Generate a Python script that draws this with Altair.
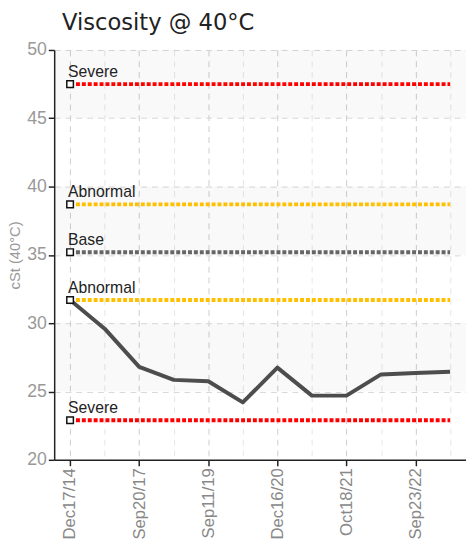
import altair as alt
import pandas as pd

# ---- data ----
idx = list(range(12))
tick_labels = ["Dec17/14", "", "Sep20/17", "", "Sep11/19", "", "Dec16/20", "",
               "Oct18/21", "", "Sep23/22", ""]
visc = [31.7, 29.6, 26.8, 25.85, 25.75, 24.2, 26.75, 24.7, 24.7, 26.25, 26.35, 26.45]

lim_names = ["Severe", "Abnormal", "Base", "Abnormal", "Severe"]
lim_values = [47.5, 38.7, 35.2, 31.7, 22.9]
lim_colors = ["#ff0000", "#ffc000", "#666666", "#ffc000", "#ff0000"]

band_lo = [25, 35, 45]
band_hi = [30, 40, 50]
y_ticks = [20, 25, 30, 35, 40, 45, 50]

# ---- tables ----
line_df = pd.DataFrame({"i": idx, "v": visc})
lim_df = pd.DataFrame({"g": list(range(len(lim_names))), "name": lim_names,
                       "v": lim_values, "c": lim_colors, "i": [idx[0]] * len(lim_names)})
lim_line_df = pd.concat([lim_df.assign(i=idx[0]), lim_df.assign(i=idx[-1])])
band_df = pd.DataFrame({"v": band_lo, "v2": band_hi})

FONT = "Liberation Sans, Arial, sans-serif"
label_expr = "[" + ",".join("'%s'" % t for t in tick_labels) + "][datum.value]"
labeled_test = "datum.value % 2 === 0"

X = alt.X("i:O", scale=alt.Scale(type="point", padding=0.46),
          axis=alt.Axis(title=None, labelExpr=label_expr, labelAngle=270,
                        labelAlign="right", labelBaseline="middle",
                        labelFont=FONT, labelFontSize=17, labelColor="#888888",
                        labelPadding=2, tickSize=6, tickWidth=1.5, tickColor="#222222",
                        tickOpacity={"condition": {"test": labeled_test, "value": 1}, "value": 0},
                        domainColor="#222222", domainWidth=1.5,
                        grid=True, gridDash=[6, 5],
                        gridColor={"condition": {"test": labeled_test, "value": "#cccccc"},
                                   "value": "#e6e6e6"}))
Y = alt.Y("v:Q", scale=alt.Scale(domain=[20, 50], nice=False, zero=False),
          axis=alt.Axis(values=y_ticks, title="cSt (40°C)", titleFont=FONT,
                        titleFontSize=15, titleColor="#999999", titleFontWeight="normal",
                        titlePadding=4,
                        labelFont=FONT, labelFontSize=18, labelColor="#999999",
                        labelPadding=2, tickSize=6, tickWidth=1.5, tickColor="#222222",
                        domainColor="#222222", domainWidth=1.5,
                        grid=True, gridDash=[6, 5], gridColor="#d8d8d8"))

bands = alt.Chart(band_df).mark_rect(color="#000000", opacity=0.025).encode(
    x=alt.value(0), x2=alt.value("width"), y=Y, y2="v2:Q")

limits = alt.Chart(lim_line_df).mark_line(strokeWidth=4, strokeDash=[4, 2], strokeCap="butt").encode(
    x=X, y=Y, detail="g:N", color=alt.Color("c:N", scale=None))

data_line = alt.Chart(line_df).mark_line(color="#4d4d4d", strokeWidth=4, strokeJoin="round").encode(
    x=X, y=Y)

markers = alt.Chart(lim_df).mark_point(shape="square", size=45, filled=False, fill="white",
                                       fillOpacity=1, stroke="#111111", strokeWidth=1.5,
                                       opacity=1).encode(x=X, y=Y)

texts = alt.Chart(lim_df).mark_text(align="left", baseline="alphabetic", dx=-2, dy=-7,
                                    font=FONT, fontSize=16, color="#222222").encode(
    x=X, y=Y, text="name:N")

chart = alt.layer(bands, limits, data_line, markers, texts).properties(
    width=419, height=417,
    title=alt.Title("Viscosity @ 40°C", anchor="start", frame="group", dx=8, offset=6,
                    font="DejaVu Sans", fontSize=23, fontWeight="normal", color="#222222"),
    autosize=alt.AutoSizeParams(type="none"),
    padding={"left": 47, "top": 38, "right": 0, "bottom": 84},
    background="white",
).configure_view(stroke=None)

chart.save("out.html", embed_options={"renderer": "svg", "actions": False})
